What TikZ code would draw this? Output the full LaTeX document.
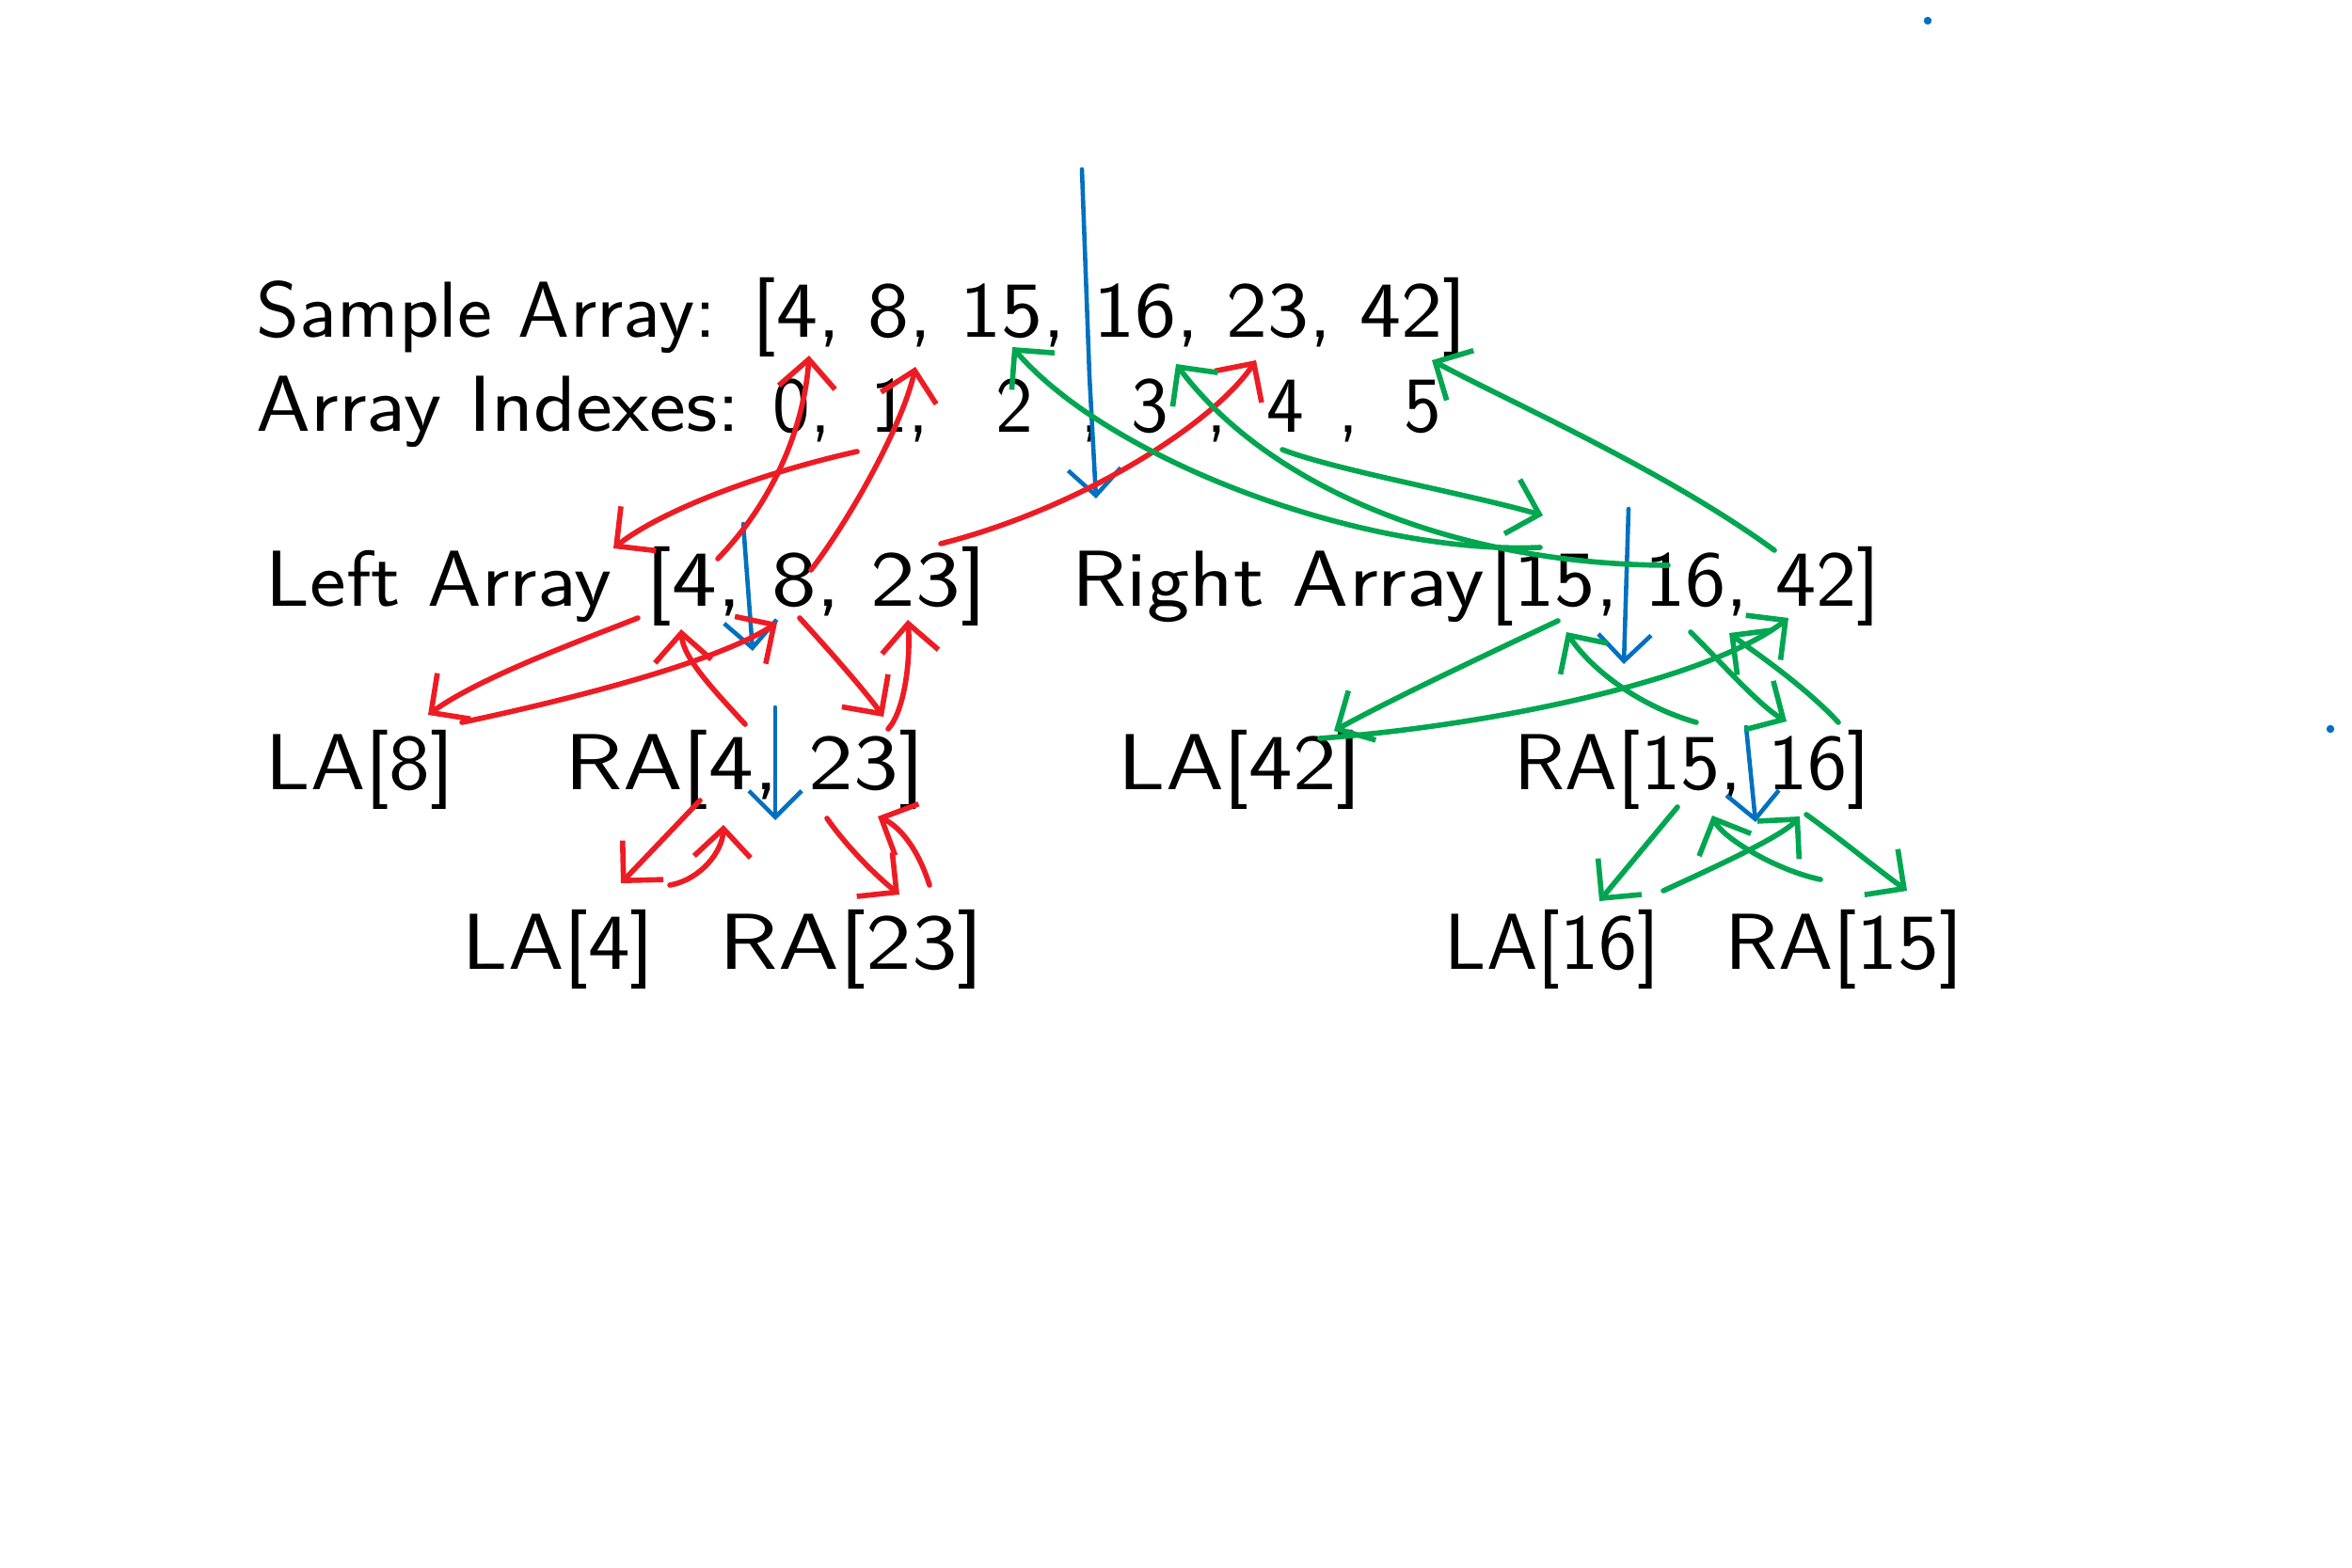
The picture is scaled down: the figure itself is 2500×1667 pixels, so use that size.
\documentclass[tikz,border=0pt]{standalone}
\usepackage{graphicx}
\usepackage{tikz}
\usetikzlibrary{arrows.meta}
\definecolor{inkblue}{RGB}{0,112,192}
\definecolor{inkred}{RGB}{237,28,36}
\definecolor{inkgreen}{RGB}{0,166,80}
\tikzset{
    hand/.style={font=\fontsize{24}{28}\selectfont\sffamily,inner sep=0pt,anchor=base west},
    barb/.style={-{Straight Barb[length=#1,width=2*#1]}},
    barb/.default=3mm,
    split arrow/.style={inkblue,line width=1.3pt,line cap=round,barb=2.8mm},
    left arrow/.style={inkred,line width=1.6pt,line cap=round,barb},
    right arrow/.style={inkgreen,line width=1.6pt,line cap=round,barb},
}
% handwriting is wider than the font: stretch to the measured width
\newcommand{\handw}[2]{\resizebox{#1}{\height}{#2}}

\begin{document}
\begin{tikzpicture}[x=0.01cm,y=-0.01cm]
        \useasboundingbox (0,0) rectangle (2500,1667);

        % arrays
        \node[hand] (samplelabel) at (272,359) {\handw{4.88cm}{Sample Array:}};
        \node[hand] (sample) at (799,359) {\handw{7.59cm}{[4, 8, 15, 16, 23, 42]}};
        \node[hand] (indexes) at (272,459) {\handw{5.14cm}{Array Indexes:}};
        \foreach \x/\t [count=\k] in {821/{0,},925/{1,},1058/2,1148/{,},1202/3,1282/{,},1346/4,1422/{,},1492/5}
            \node[hand] (idx\k) at (\x,459) {\t};
        \node[hand] (leftlabel) at (282,644) {\handw{3.67cm}{Left Array}};
        \node[hand] (left) at (686,644) {\handw{3.62cm}{[4, 8, 23]}};
        \node[hand] (rightlabel) at (1139,644) {\handw{4.38cm}{Right Array}};
        \node[hand] (right) at (1584,644) {\handw{4.14cm}{[15, 16, 42]}};
        \node[hand] (la8) at (282,839) {\handw{2cm}{LA[8]}};
        \node[hand] (ra4) at (600,839) {\handw{3.82cm}{RA[4, 23]}};
        \node[hand] (la42) at (1188,839) {\handw{2.59cm}{LA[42]}};
        \node[hand] (ra15) at (1609,839) {\handw{3.78cm}{RA[15, 16]}};
        \node[hand] (la4) at (491,1030) {\handw{2.04cm}{LA[4]}};
        \node[hand] (ra23) at (764,1030) {\handw{2.81cm}{RA[23]}};
        \node[hand] (la16) at (1535,1030) {\handw{2.28cm}{LA[16]}};
        \node[hand] (rb15) at (1833,1030) {\handw{2.53cm}{RA[15]}};

        % ends of the hand drawn arrows
        \coordinate (s4) at (860,378);
        \coordinate (s8) at (973,390);
        \coordinate (s15) at (1076,369);
        \coordinate (s16) at (1250,387);
        \coordinate (s23) at (1335,383);
        \coordinate (s42) at (1522,383);
        \coordinate (i1) at (911,480);
        \coordinate (i4) at (1363,478);

        % splitting
        \draw[split arrow] (1150,180) -- (1158,400) -- (1165,530);
        \draw[split arrow] (790,557) -- (800,692);
        \draw[split arrow] (824,752) -- (824,872);
        \draw[split arrow] (1731,541) -- (1726,706);
        \draw[split arrow] (1856,773) -- (1866,874);
        \fill[inkblue] (2049,22) circle[radius=1.2pt] (2477,775) circle[radius=1.2pt];

        % merging the left half
        \draw[left arrow] (763,594) .. controls (825,530) and (855,450) .. (s4);
        \draw[left arrow] (862,606) .. controls (905,550) and (960,450) .. (s8);
        \draw[left arrow] (i1) .. controls (800,505) and (700,545) .. (652,583);
        \draw[left arrow] (1000,578) .. controls (1150,540) and (1290,450) .. (s23);
        \draw[left arrow] (678,657) .. controls (620,680) and (510,720) .. (455,760);
        \draw[left arrow] (491,768) .. controls (600,745) and (760,705) .. (826,662);
        \draw[left arrow] (792,770) .. controls (760,735) and (726,700) .. (724,669);
        \draw[left arrow] (850,657) .. controls (880,690) and (920,735) .. (939,762);
        \draw[left arrow] (944,775) .. controls (962,755) and (968,700) .. (965,659);
        \draw[left arrow] (744,851) -- (660,939);
        \draw[left arrow] (712,941) .. controls (745,935) and (768,905) .. (769,877);
        \draw[left arrow] (879,870) .. controls (900,900) and (930,930) .. (956,951);
        \draw[left arrow] (988,941) .. controls (975,900) and (955,878) .. (933,868);

        % merging the right half
        \draw[right arrow] (1637,582) .. controls (1450,590) and (1180,490) .. (s15);
        \draw[right arrow] (1773,601) .. controls (1550,600) and (1350,520) .. (s16);
        \draw[right arrow] (i4) .. controls (1420,500) and (1560,525) .. (1640,548);
        \draw[right arrow] (1886,585) .. controls (1770,500) and (1600,425) .. (s42);
        \draw[right arrow] (1656,660) .. controls (1571,700) and (1476,745) .. (1418,777);
        \draw[right arrow] (1403,785) .. controls (1600,770) and (1820,720) .. (1901,657);
        \draw[right arrow] (1803,768) .. controls (1740,750) and (1690,710) .. (1665,672);
        \draw[right arrow] (1797,672) .. controls (1832,707) and (1870,750) .. (1899,767);
        \draw[right arrow] (1954,768) .. controls (1916,727) and (1860,690) .. (1838,673);
        \draw[right arrow] (1783,858) -- (1700,958);
        \draw[right arrow] (1768,947) .. controls (1820,923) and (1893,890) .. (1913,868);
        \draw[right arrow] (1935,935) .. controls (1887,925) and (1830,890) .. (1820,867);
        \draw[right arrow] (1920,866) .. controls (1963,897) and (1990,920) .. (2027,947);
    \end{tikzpicture}
\end{document}
